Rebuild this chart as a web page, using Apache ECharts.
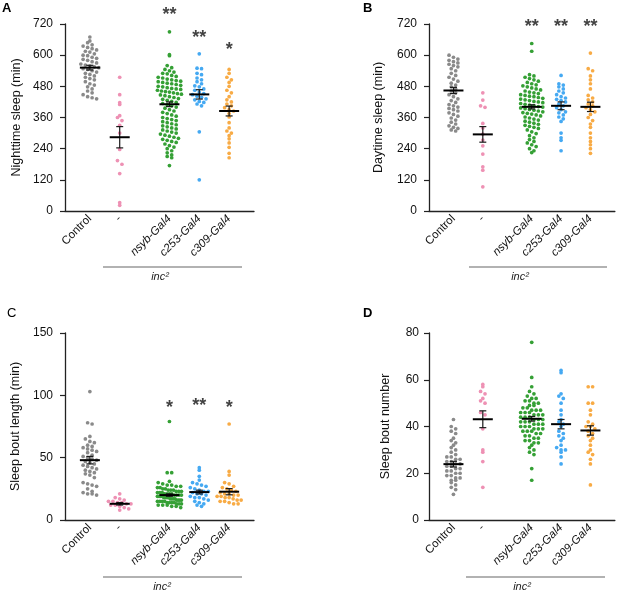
<!DOCTYPE html>
<html>
<head>
<meta charset="utf-8">
<script src="https://cdn.jsdelivr.net/npm/echarts@6/dist/echarts.min.js"></script>
<style>
  html, body { margin: 0; padding: 0; background: #fff; }
  #chart { width: 617px; height: 592px; }
</style>
</head>
<body>
<div id="chart"></div>
<script>
// groups and their x positions on the value axis (gap between "-" and the Gal4 lines)
var groups = ['Control', '-', 'nsyb-Gal4', 'c253-Gal4', 'c309-Gal4'];
var groupPos = [5, 11, 21, 27, 33];
var colors = ['#8a8a8a', '#ee91b4', '#35a035', '#45a9f2', '#f8ab45'];

// A: nighttime sleep (min)
var nightControl = [670, 655, 648, 640, 635, 630, 625, 620, 615, 612, 605, 600, 598, 592, 588, 584, 580, 575, 570, 566, 562, 558, 555, 552, 548, 545, 540, 535, 530, 526, 520, 515, 510, 505, 498, 490, 485, 478, 470, 462, 455, 448, 440, 436, 432];
var nightInc = [515, 448, 417, 410, 367, 360, 348, 330, 300, 237, 194, 180, 144, 32, 22];
var nightNsyb = [690, 602, 598, 560, 552, 545, 540, 535, 530, 528, 522, 518, 515, 512, 508, 505, 502, 500, 498, 495, 492, 490, 487, 484, 480, 478, 475, 472, 470, 468, 465, 462, 460, 458, 455, 452, 450, 447, 444, 440, 437, 433, 430, 426, 422, 418, 414, 410, 405, 400, 396, 390, 385, 380, 375, 370, 365, 360, 356, 352, 348, 344, 340, 336, 332, 328, 324, 320, 316, 312, 308, 304, 300, 296, 292, 288, 284, 280, 276, 272, 268, 264, 258, 252, 246, 240, 232, 224, 216, 210, 205, 175];
var nightC253 = [605, 550, 548, 530, 525, 512, 505, 498, 490, 482, 478, 470, 465, 458, 452, 448, 442, 438, 432, 428, 422, 418, 412, 405, 305, 120];
var nightC309 = [545, 530, 515, 505, 495, 480, 465, 455, 440, 428, 420, 412, 405, 398, 390, 385, 375, 362, 340, 320, 308, 300, 290, 278, 262, 245, 222, 205];
var nightMean = [552, 284, 411, 449, 385];
var nightSem = [9, 41, 9, 18, 19];
var nightStars = ['', '', '**', '**', '*'];
var nightStarY = [0, 0, 778, 690, 643];

// B: daytime sleep (min)
var dayControl = [600, 592, 585, 580, 575, 570, 565, 560, 555, 548, 540, 530, 522, 515, 508, 500, 492, 485, 478, 470, 462, 455, 448, 440, 432, 425, 418, 410, 405, 400, 395, 390, 385, 378, 372, 365, 358, 350, 342, 335, 328, 322, 318, 312, 308];
var dayInc = [455, 427, 405, 399, 337, 320, 296, 273, 251, 219, 170, 157, 93];
var dayNsyb = [645, 615, 525, 520, 515, 510, 505, 500, 495, 490, 486, 482, 478, 474, 470, 466, 462, 458, 455, 452, 448, 445, 442, 440, 437, 434, 431, 428, 425, 422, 420, 417, 414, 411, 408, 405, 402, 400, 397, 394, 391, 388, 385, 382, 379, 376, 373, 370, 366, 362, 358, 354, 350, 346, 342, 338, 334, 330, 326, 322, 318, 312, 305, 298, 290, 282, 275, 268, 262, 255, 248, 240, 232, 225];
var dayC253 = [522, 490, 485, 478, 470, 462, 455, 448, 440, 435, 430, 425, 420, 412, 405, 398, 390, 382, 378, 370, 362, 355, 345, 300, 282, 272, 232];
var dayC309 = [608, 548, 540, 520, 505, 490, 470, 445, 435, 428, 420, 412, 405, 398, 390, 382, 372, 360, 348, 335, 322, 300, 282, 268, 255, 240, 222];
var dayMean = [464, 295, 401, 405, 401];
var daySem = [12, 30, 8, 15, 18];
var dayStars = ['', '', '**', '**', '**'];
var dayStarY = [0, 0, 733, 733, 733];

// C: sleep bout length (min)
var boutControl = [103, 78, 77, 67, 65, 63, 62, 60, 59, 58, 57, 56, 55, 54, 52, 51, 50, 49, 48, 47, 46, 45, 44, 43, 42, 41, 40, 39, 38, 37, 36, 34, 30, 29, 28, 27, 25, 23, 22, 21, 21, 20];
var boutInc = [21, 18, 17, 16, 15, 15, 14, 14, 13, 13, 12, 12, 11, 10, 9, 8];
var boutNsyb = [79, 38, 38, 31, 30, 29, 28, 28, 27, 27, 26, 26, 25, 25, 24, 24, 24, 23, 23, 23, 22, 22, 22, 21, 21, 21, 21, 20, 20, 20, 20, 19, 19, 19, 19, 18, 18, 18, 18, 17, 17, 17, 17, 16, 16, 16, 16, 15, 15, 15, 15, 14, 14, 14, 14, 13, 13, 13, 12, 12, 12, 11, 11, 10];
var boutC253 = [42, 40, 35, 32, 30, 29, 28, 27, 26, 25, 24, 23, 23, 22, 21, 21, 20, 19, 18, 18, 17, 16, 15, 14, 13, 12, 11];
var boutC309 = [77, 39, 36, 30, 29, 27, 26, 25, 24, 23, 22, 21, 21, 20, 20, 19, 19, 18, 18, 17, 16, 16, 15, 15, 14, 13, 13];
var boutMean = [48, 13, 20, 22.4, 22.7];
var boutSem = [3, 1, 1, 1.5, 2.5];
var boutStars = ['', '', '*', '**', '*'];
var boutStarY = [0, 0, 95, 96, 95];

// D: sleep bout number
var numControl = [43, 40, 39, 38, 37, 35, 34, 33, 32, 31, 30, 29, 28, 27, 27, 26, 26, 25, 25, 24, 24, 23, 23, 22, 22, 21, 21, 20, 20, 19, 19, 18, 18, 17, 17, 16, 15, 14, 13, 11];
var numInc = [58, 57, 55, 54, 52, 51, 50, 46, 45, 39, 30, 29, 25, 14];
var numNsyb = [76, 61, 57, 55, 54, 53, 52, 52, 51, 51, 50, 50, 49, 49, 48, 48, 47, 47, 47, 46, 46, 46, 45, 45, 45, 44, 44, 44, 43, 43, 43, 42, 42, 42, 41, 41, 41, 40, 40, 40, 39, 39, 39, 38, 38, 38, 37, 37, 36, 36, 35, 35, 34, 34, 33, 33, 32, 31, 30, 29, 28, 22, 17];
var numC253 = [64, 63, 54, 53, 52, 50, 47, 45, 43, 42, 41, 40, 38, 37, 36, 35, 34, 32, 31, 30, 30, 29, 27, 24];
var numC309 = [57, 57, 50, 50, 47, 45, 42, 41, 40, 40, 39, 38, 37, 36, 35, 34, 32, 30, 29, 28, 26, 24, 15];
var numMean = [23.9, 43.1, 43.3, 41, 38.3];
var numSem = [1.2, 3.6, 1, 2, 2];

var font = "'Liberation Sans', Arial, Helvetica, sans-serif";

var panels = [
	{ left: 65, top: 24, ymax: 720, step: 120, name: 'Nighttime sleep (min)', gap: 42, margin: 12,
	  groups: [nightControl, nightInc, nightNsyb, nightC253, nightC309], mean: nightMean, sem: nightSem, stars: nightStars, starY: nightStarY },
	{ left: 429, top: 24, ymax: 720, step: 120, name: 'Daytime sleep (min)', gap: 44, margin: 12,
	  groups: [dayControl, dayInc, dayNsyb, dayC253, dayC309], mean: dayMean, sem: daySem, stars: dayStars, starY: dayStarY },
	{ left: 65, top: 333, ymax: 150, step: 50, name: 'Sleep bout length (min)', gap: 43, margin: 12,
	  groups: [boutControl, boutInc, boutNsyb, boutC253, boutC309], mean: boutMean, sem: boutSem, stars: boutStars, starY: boutStarY },
	{ left: 429, top: 333, ymax: 80, step: 20, name: 'Sleep bout number', gap: 37, margin: 10,
	  groups: [numControl, numInc, numNsyb, numC253, numC309], mean: numMean, sem: numSem, stars: null, starY: null }
];
var gridW = 189, gridH = 187, xMax = 38;

// Prism-like scatter: dots binned in rows by height, spread sideways within a row
function swarm(values, center, pxX, pxY) {
	var binH = 4.4, step = 4.5, maxW = 24;
	var bins = {};
	values.forEach(function (v) {
		var k = Math.round(v * pxY / binH);
		(bins[k] = bins[k] || []).push(v);
	});
	var out = [];
	Object.keys(bins).forEach(function (k) {
		var row = bins[k];
		var n = row.length;
		var s = n > 1 ? Math.min(step, maxW / (n - 1)) : 0;
		row.forEach(function (v, j) {
			var off = (j - (n - 1) / 2) * s;
			out.push([center + off / pxX, v]);
		});
	});
	return out;
}

function xLabel(v) {
	var k = groupPos.indexOf(v);
	if (k < 0) return '';
	if (k < 2) return groups[k];
	return '{i|' + groups[k] + '}';
}

var grids = [], xAxes = [], yAxes = [], series = [];

panels.forEach(function (p, i) {
	grids.push({ left: p.left, top: p.top, width: gridW, height: gridH });
	xAxes.push({
		gridIndex: i, type: 'value', min: 0, max: xMax, interval: 1,
		axisLine: { lineStyle: { color: '#222', width: 1.3 } },
		axisTick: { show: false },
		splitLine: { show: false },
		axisLabel: {
			rotate: 45, margin: 6, fontSize: 11.5, color: '#111', fontFamily: font,
			formatter: xLabel,
			rich: { i: { fontStyle: 'italic', fontSize: 11.5, color: '#111', fontFamily: font } }
		}
	});
	yAxes.push({
		gridIndex: i, type: 'value', min: 0, max: p.ymax, interval: p.step,
		name: p.name, nameLocation: 'middle', nameGap: p.gap,
		nameTextStyle: { fontSize: 12.5, color: '#111', fontFamily: font },
		axisLine: { show: true, lineStyle: { color: '#222', width: 1.3 } },
		axisTick: { show: true, length: 5, lineStyle: { color: '#222', width: 1.2 } },
		axisLabel: { margin: p.margin, fontSize: 12, color: '#111', fontFamily: font },
		splitLine: { show: false }
	});

	var pxX = gridW / xMax, pxY = gridH / p.ymax;
	p.groups.forEach(function (vals, g) {
		series.push({
			type: 'scatter', xAxisIndex: i, yAxisIndex: i, silent: true,
			symbolSize: 3.7, itemStyle: { color: colors[g], opacity: 1 },
			data: swarm(vals, groupPos[g], pxX, pxY), z: 2
		});
	});

	series.push({
		type: 'custom', xAxisIndex: i, yAxisIndex: i, silent: true, z: 5, clip: false,
		encode: { x: 0, y: 1 },
		data: p.mean.map(function (m, g) { return [groupPos[g], m, p.sem[g]]; }),
		renderItem: function (params, api) {
			var x = api.value(0), m = api.value(1), s = api.value(2);
			var c = api.coord([x, m]), t = api.coord([x, m + s]), b = api.coord([x, m - s]);
			var st = { stroke: '#1a1a1a', lineWidth: 1.2 };
			return {
				type: 'group', children: [
					{ type: 'line', shape: { x1: t[0], y1: t[1], x2: b[0], y2: b[1] }, style: st },
					{ type: 'line', shape: { x1: t[0] - 3.5, y1: t[1], x2: t[0] + 3.5, y2: t[1] }, style: st },
					{ type: 'line', shape: { x1: b[0] - 3.5, y1: b[1], x2: b[0] + 3.5, y2: b[1] }, style: st },
					{ type: 'line', shape: { x1: c[0] - 10, y1: c[1], x2: c[0] + 10, y2: c[1] }, style: { stroke: '#000', lineWidth: 2 } }
				]
			};
		}
	});

	if (p.stars) {
		var starData = [];
		p.stars.forEach(function (s, g) { if (s) starData.push([groupPos[g], p.starY[g], s]); });
		series.push({
			type: 'scatter', xAxisIndex: i, yAxisIndex: i, silent: true, clip: false,
			symbolSize: 0, data: starData,
			label: {
				show: true, position: 'inside', offset: [0, 6],
				formatter: function (d) { return d.value[2]; },
				fontSize: 18, fontWeight: 'bold', color: '#111', fontFamily: font
			}
		});
	}
});

function panelLetter(t, x, y, w) {
	return { type: 'text', left: x, top: y, style: { text: t, fontSize: 13, fontWeight: w, fill: '#000', fontFamily: font } };
}
function incLine(x1, x2, y) {
	return { type: 'line', shape: { x1: x1, y1: y, x2: x2, y2: y }, style: { stroke: '#999', lineWidth: 1.5 } };
}
function incText(cx, cy) {
	return { type: 'text', x: cx, y: cy, style: { text: 'inc\u00b2', fontSize: 11, fontStyle: 'italic', fill: '#222', fontFamily: font, align: 'center', verticalAlign: 'middle' } };
}

var chart = echarts.init(document.getElementById('chart'), null, { renderer: 'canvas' });
chart.setOption({
	animation: false,
	backgroundColor: '#fff',
	grid: grids,
	xAxis: xAxes,
	yAxis: yAxes,
	series: series,
	graphic: [
		panelLetter('A', 2, 2, 'bold'), panelLetter('B', 363, 2, 'bold'),
		panelLetter('C', 7, 307, 'normal'), panelLetter('D', 363, 307, 'bold'),
		incLine(103, 242, 267), incLine(469, 607, 267),
		incLine(103, 242, 577), incLine(466, 605, 577),
		incText(160, 277), incText(520, 277),
		incText(162, 587), incText(522, 587)
	]
});
</script>
</body>
</html>
